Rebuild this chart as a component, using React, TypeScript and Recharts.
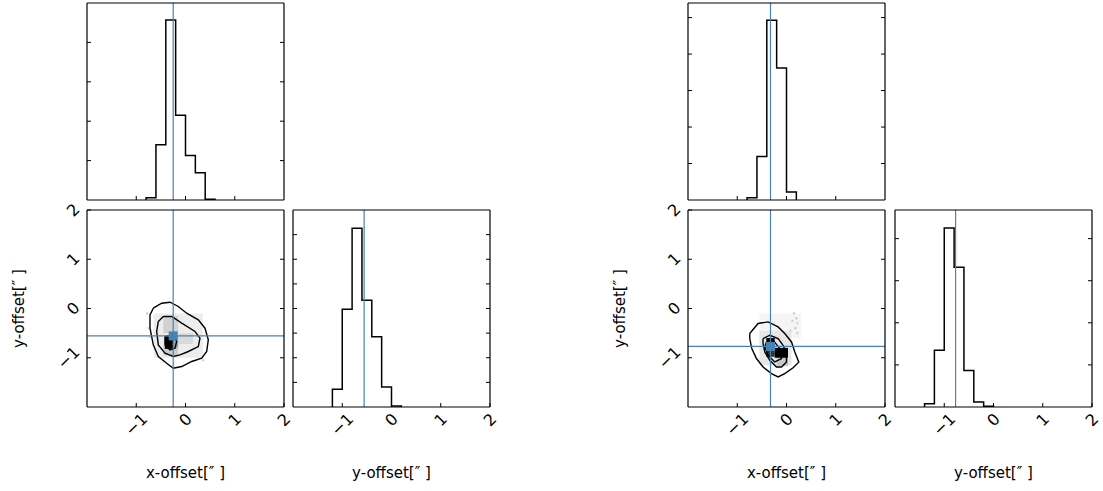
import React from 'react';
import { ComposedChart, Line, XAxis, YAxis, ReferenceLine, ReferenceArea, Scatter } from 'recharts';

// ---- data ----
const X_EDGES_A = [-0.8, -0.6, -0.4, -0.2, 0, 0.2, 0.4, 0.6];
const X_HIST_A = [0.06, 1.4, 4.57, 2.15, 1.13, 0.69, 0.02];
const Y_EDGES_A = [-1.2, -1.0, -0.8, -0.6, -0.4, -0.2, 0, 0.2];
const Y_HIST_A = [0.72, 3.97, 7.26, 4.34, 2.85, 0.81, 0.04];
const X_EDGES_B = [-0.8, -0.6, -0.4, -0.2, 0, 0.2];
const X_HIST_B = [0.06, 1.19, 4.93, 3.62, 0.22];
const Y_EDGES_B = [-1.4, -1.2, -1.0, -0.8, -0.6, -0.4, -0.2, 0];
const Y_HIST_B = [0.08, 1.35, 4.25, 3.32, 0.87, 0.12, 0.02];

const TRUTH_A = { x: -0.25, y: -0.556 };
const TRUTH_B = { x: -0.325, y: -0.77 };

// contour levels, [x, y]
const OUTER_A = [[-0.654, 0.006], [-0.483, 0.108], [-0.315, 0.128], [-0.146, 0.041], [0.024, -0.095], [0.26, -0.231], [0.396, -0.4], [0.463, -0.638], [0.43, -0.873], [0.329, -1.009], [0.126, -1.076], [-0.077, -1.178], [-0.248, -1.212], [-0.382, -1.111], [-0.552, -0.975], [-0.654, -0.739], [-0.721, -0.4], [-0.721, -0.13], [-0.654, 0.006]];
const MIDDLE_A = [[-0.451, -0.162], [-0.28, -0.162], [-0.077, -0.298], [0.193, -0.467], [0.294, -0.603], [0.26, -0.772], [0.057, -0.873], [-0.112, -0.942], [-0.248, -0.975], [-0.416, -0.908], [-0.552, -0.739], [-0.585, -0.467], [-0.552, -0.264], [-0.451, -0.162]];
const INNER_A = [[-0.416, -0.569], [-0.248, -0.536], [-0.179, -0.67], [-0.213, -0.806], [-0.315, -0.841], [-0.416, -0.739], [-0.416, -0.569]];
const OUTER_B = [[-0.746, -0.508], [-0.577, -0.305], [-0.374, -0.272], [-0.171, -0.374], [-0.035, -0.508], [0.102, -0.679], [0.169, -0.882], [0.25, -1.09], [0.134, -1.203], [-0.035, -1.321], [-0.171, -1.39], [-0.305, -1.321], [-0.476, -1.187], [-0.61, -1.016], [-0.705, -0.813], [-0.746, -0.61], [-0.746, -0.508]];
const MIDDLE_B = [[-0.476, -0.61], [-0.339, -0.543], [-0.171, -0.61], [-0.069, -0.746], [0.0, -0.915], [0.0, -1.085], [-0.102, -1.187], [-0.203, -1.187], [-0.339, -1.051], [-0.441, -0.882], [-0.476, -0.711], [-0.476, -0.61]];
const INNER_B = [[-0.407, -0.679], [-0.272, -0.644], [-0.136, -0.813], [-0.102, -1.016], [-0.238, -1.085], [-0.374, -0.949], [-0.441, -0.78], [-0.407, -0.679]];

// 2d density cells: [x1, x2, y1, y2, density]
const CELLS_A = [
  [-0.65, 0.35, -1.0, -0.1, 0.07],
  [-0.45, -0.15, -0.5, -0.15, 0.18],
  [-0.15, 0.15, -0.72, -0.5, 0.15],
  [-0.45, -0.15, -0.95, -0.75, 0.2],
  [-0.25, -0.15, -0.8, -0.57, 0.35],
  [-0.42, -0.25, -0.82, -0.57, 1.0],
  [-0.8, -0.76, -0.12, -0.08, 0.2],
  [-0.77, -0.73, -0.42, -0.38, 0.2],
  [-0.75, -0.71, -0.6, -0.56, 0.15],
  [0.34, 0.38, -1.07, -1.03, 0.2],
];
const CELLS_B = [
  [-0.55, 0.3, -0.6, -0.1, 0.04],
  [-0.55, 0.1, -1.15, -0.45, 0.1],
  [-0.2, 0.03, -1.17, -1.0, 0.22],
  [-0.41, -0.24, -0.98, -0.78, 0.8],
  [-0.41, -0.24, -0.78, -0.6, 1.0],
  [-0.24, 0.03, -1.0, -0.8, 1.0],
  [0.13, 0.17, -0.12, -0.08, 0.25],
  [0.18, 0.22, -0.22, -0.18, 0.25],
  [0.2, 0.24, -0.32, -0.28, 0.2],
  [0.1, 0.14, -0.27, -0.23, 0.2],
  [0.16, 0.2, -0.42, -0.38, 0.25],
  [0.06, 0.1, -0.47, -0.43, 0.2],
  [0.2, 0.24, -0.52, -0.48, 0.2],
];

const X_TICKS = [-1, 0, 1, 2];
const INNER_TICKS = [-1, 0, 1];

const BLUE = '#4682b4';
const FONT = '"DejaVu Sans", sans-serif';
const TICK_FS = 16;
const SIZE = 197;
const L = 44, R = 10, T = 18, B = 44;

const fmt = (v: number) => (v < 0 ? '\u2212' + Math.abs(v) : String(v));
// size of the box a 45deg label takes up
const boxOf = (s: string) => {
  const w = [...s].reduce((a, c) => a + (c === '\u2212' ? 0.838 : 0.636) * TICK_FS, 0);
  return (w + 0.73 * TICK_FS) / Math.SQRT2;
};

const makeTick = (side: string, labeled: boolean) => (props: any) => {
  const { x, y, payload } = props;
  const s = fmt(payload.value);
  const bb = boxOf(s);
  let line = null;
  let label = null;
  if (side === 'bottom') {
    line = <line x1={x} y1={y} x2={x} y2={y - 4} stroke="#000" />;
    if (labeled) {
      const cy = y + 5 + bb / 2;
      label = <text x={x} y={cy} transform={`rotate(-45 ${x} ${cy})`} textAnchor="middle" dominantBaseline="central" fontSize={TICK_FS} fontFamily={FONT} fill="#000">{s}</text>;
    }
  } else if (side === 'top') {
    line = <line x1={x} y1={y} x2={x} y2={y + 4} stroke="#000" />;
  } else if (side === 'left') {
    line = <line x1={x} y1={y} x2={x + 4} y2={y} stroke="#000" />;
    if (labeled) {
      const cx = x - 6 - bb / 2;
      label = <text x={cx} y={y} transform={`rotate(-45 ${cx} ${y})`} textAnchor="middle" dominantBaseline="central" fontSize={TICK_FS} fontFamily={FONT} fill="#000">{s}</text>;
    }
  } else {
    line = <line x1={x} y1={y} x2={x - 4} y2={y} stroke="#000" />;
  }
  return <g>{line}{label}</g>;
};

const stepPoints = (edges: number[], heights: number[]) => {
  const pts = [{ x: edges[0], y: 0 }];
  heights.forEach((h, i) => {
    pts.push({ x: edges[i], y: h });
    pts.push({ x: edges[i + 1], y: h });
  });
  pts.push({ x: edges[edges.length - 1], y: 0 });
  return pts;
};

const toPts = (c: number[][]) => c.map(([x, y]) => ({ x, y }));
const gray = (d: number) => {
  const v = Math.round(255 * (1 - d));
  return `rgb(${v},${v},${v})`;
};

const axisCommon = {
  type: 'number' as const,
  allowDataOverflow: true,
  interval: 0,
  tickSize: 0,
  tickMargin: 0,
  tickLine: false,
  axisLine: { stroke: '#000', strokeWidth: 1.2 },
};

const frame = (xTicks: number[], yTicks: number[], yDomain: number[], xLabeled: boolean, yLabeled: boolean) => [
  <XAxis key="xb" {...axisCommon} dataKey="x" domain={[-2, 2]} ticks={xTicks} height={1} tick={makeTick('bottom', xLabeled)} />,
  <XAxis key="xt" {...axisCommon} xAxisId="top" orientation="top" domain={[-2, 2]} ticks={INNER_TICKS} height={1} tick={makeTick('top', false)} />,
  <YAxis key="yl" {...axisCommon} dataKey="y" domain={yDomain} ticks={yTicks} width={1} tick={makeTick('left', yLabeled)} />,
  <YAxis key="yr" {...axisCommon} yAxisId="right" orientation="right" domain={yDomain} ticks={yTicks.filter((t) => t < yDomain[1])} width={1} tick={makeTick('right', false)} />,
];

const MARGIN = { top: T - 1, right: R - 1, bottom: B - 1, left: L - 1 };

function Hist({ left, top, edges, heights, ymax, yTicks, truth, labeled }: any) {
  return (
    <div style={{ position: 'absolute', left: left - L, top: top - T }}>
      <ComposedChart width={SIZE + L + R} height={SIZE + T + B} margin={MARGIN}>
        {frame(labeled ? X_TICKS : INNER_TICKS, yTicks, [0, ymax], labeled, false)}
        <Line data={stepPoints(edges, heights)} dataKey="y" type="linear" stroke="#000" strokeWidth={1.5} dot={false} isAnimationActive={false} />
        <ReferenceLine x={truth} stroke={BLUE} strokeWidth={1.2} />
      </ComposedChart>
    </div>
  );
}

function Joint({ left, top, cells, contours, truth }: any) {
  return (
    <div style={{ position: 'absolute', left: left - L, top: top - T }}>
      <ComposedChart width={SIZE + L + R} height={SIZE + T + B} margin={MARGIN}>
        {frame(X_TICKS, X_TICKS, [-2, 2], true, true)}
        {cells.map((c: number[], i: number) => (
          <ReferenceArea key={i} x1={c[0]} x2={c[1]} y1={c[2]} y2={c[3]} fill={gray(c[4])} fillOpacity={1} stroke="none" />
        ))}
        {contours.map((c: number[][], i: number) => (
          <Line key={'c' + i} data={toPts(c)} dataKey="y" type="linear" stroke="#000" strokeWidth={1.4} dot={false} isAnimationActive={false} />
        ))}
        <ReferenceLine x={truth.x} stroke={BLUE} strokeWidth={1.2} />
        <ReferenceLine y={truth.y} stroke={BLUE} strokeWidth={1.2} />
        <Scatter data={[truth]} isAnimationActive={false} shape={(p: any) => <rect x={p.cx - 4.5} y={p.cy - 4.5} width={9} height={9} fill={BLUE} />} />
      </ComposedChart>
    </div>
  );
}

const TITLE = 'x-offset[\u2033 ]';
const YTITLE = 'y-offset[\u2033 ]';

export default function App() {
  const colA = [87, 293];
  const colB = [688, 895];
  const rows = [3, 210];
  return (
    <div style={{ position: 'absolute', left: 0, top: 0, width: 1103, height: 491, background: '#fff', overflow: 'hidden' }}>
      <Hist left={colA[0]} top={rows[0]} edges={X_EDGES_A} heights={X_HIST_A} ymax={5} yTicks={[1, 2, 3, 4]} truth={TRUTH_A.x} labeled={false} />
      <Joint left={colA[0]} top={rows[1]} cells={CELLS_A} contours={[OUTER_A, MIDDLE_A, INNER_A]} truth={TRUTH_A} />
      <Hist left={colA[1]} top={rows[1]} edges={Y_EDGES_A} heights={Y_HIST_A} ymax={8} yTicks={[1, 2, 3, 4, 5, 6, 7]} truth={TRUTH_A.y} labeled />
      <Hist left={colB[0]} top={rows[0]} edges={X_EDGES_B} heights={X_HIST_B} ymax={5.4} yTicks={[1, 2, 3, 4, 5]} truth={TRUTH_B.x} labeled={false} />
      <Joint left={colB[0]} top={rows[1]} cells={CELLS_B} contours={[OUTER_B, MIDDLE_B, INNER_B]} truth={TRUTH_B} />
      <Hist left={colB[1]} top={rows[1]} edges={Y_EDGES_B} heights={Y_HIST_B} ymax={4.68} yTicks={[1, 2, 3, 4]} truth={TRUTH_B.y} labeled />
      <svg width={1103} height={491} style={{ position: 'absolute', left: 0, top: 0, pointerEvents: 'none' }} fontFamily={FONT} fontSize={15} fill="#000">
        <text x={185.5} y={478} textAnchor="middle">{TITLE}</text>
        <text x={391.5} y={478} textAnchor="middle">{YTITLE}</text>
        <text x={19} y={308.5} textAnchor="middle" dominantBaseline="central" transform="rotate(-90 19 308.5)">{YTITLE}</text>
        <text x={786.5} y={478} textAnchor="middle">{TITLE}</text>
        <text x={993.5} y={478} textAnchor="middle">{YTITLE}</text>
        <text x={620} y={308.5} textAnchor="middle" dominantBaseline="central" transform="rotate(-90 620 308.5)">{YTITLE}</text>
      </svg>
    </div>
  );
}
